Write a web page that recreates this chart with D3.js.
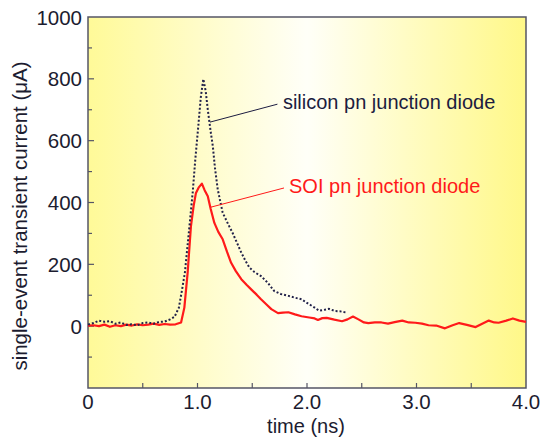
<!DOCTYPE html>
<html><head><meta charset="utf-8">
<script src="https://cdn.jsdelivr.net/npm/d3@7"></script>
<style>body{margin:0;background:#fff}svg{display:block}text{font-family:"Liberation Sans",Arial,Helvetica,sans-serif}</style>
</head><body>
<script>
// ---- data ----
const siliconT = [0.00,0.05,0.10,0.15,0.20,0.25,0.30,0.35,0.40,0.45,0.50,0.55,0.60,0.65,0.70,0.75,0.79,0.83,0.86,0.885,0.92,0.956,0.98,1.007,1.03,1.053,1.075,1.094,1.12,1.14,1.16,1.185,1.21,1.23,1.28,1.32,1.36,1.40,1.44,1.475,1.52,1.58,1.64,1.70,1.76,1.83,1.89,1.95,2.00,2.07,2.11,2.16,2.20,2.255,2.30,2.36];
const siliconI = [5,10,18,14,16,8,12,4,6,3,10,12,8,14,15,22,30,60,120,174,300,432,540,646,740,799,760,700,630,582,510,442,400,367,330,302,270,238,210,189,175,162,141,114,104,98,92,87,75,60,50,53,56,49,48,44];
const soiT = [0.00,0.05,0.10,0.15,0.20,0.25,0.30,0.35,0.40,0.45,0.50,0.55,0.60,0.65,0.70,0.75,0.80,0.85,0.88,0.91,0.94,0.965,0.986,1.01,1.04,1.065,1.094,1.12,1.154,1.19,1.23,1.27,1.307,1.35,1.40,1.45,1.49,1.54,1.58,1.63,1.674,1.735,1.78,1.83,1.89,1.95,2.02,2.07,2.10,2.14,2.18,2.25,2.32,2.37,2.42,2.47,2.52,2.56,2.62,2.68,2.74,2.80,2.87,2.93,2.99,3.05,3.11,3.18,3.26,3.33,3.39,3.46,3.54,3.60,3.66,3.71,3.75,3.82,3.88,3.94,4.00];
const soiI = [2,3,0,5,-2,3,0,5,2,6,3,5,8,4,7,5,6,12,60,173,323,390,431,448,461,440,420,380,334,305,281,240,205,178,152,133,119,102,87,70,55,42,44,45,38,32,28,25,20,26,27,21,16,22,31,22,12,10,12,12,8,13,18,12,11,8,3,2,-7,3,10,4,-3,8,18,12,11,18,25,18,14];
const xMajor = [0,1,2,3,4];
const xTickLabels = ["0","1.0","2.0","3.0","4.0"];
const xMinor = [0.5,1.5,2.5,3.5];
const yMajor = [0,200,400,600,800,1000];
const yTickLabels = ["0","200","400","600","800","1000"];
const yMinor = [-100,100,300,500,700,900];
const xTitle = "time (ns)";
const yTitle = "single-event transient current (\u03bcA)";
// annotations: [label, leader start t, I, leader end t, I, text t, I]
const siliconNote = ["silicon pn junction diode", 1.114, 660, 1.73, 718, 1.78, 701];
const soiNote = ["SOI pn junction diode", 1.123, 385, 1.79, 447, 1.836, 431];

// ---- drawing ----
const W = 540, H = 438;
const L = 88, R = 526, T = 17, B = 388;
const x = d3.scaleLinear().domain([0,4]).range([L,R]);
const y = d3.scaleLinear().domain([-200,1000]).range([B,T]);
const svg = d3.select("body").append("svg").attr("width",W).attr("height",H);

const defs = svg.append("defs");
const g = defs.append("linearGradient").attr("id","bg").attr("x1","0").attr("x2","1").attr("y1","0").attr("y2","0");
[[0,"#fffa98"],[0.25,"#fffcc8"],[0.5,"#fffff8"],[0.72,"#fffcc6"],[1,"#fff888"]].forEach(s=>g.append("stop").attr("offset",s[0]).attr("stop-color",s[1]));
svg.append("rect").attr("x",L).attr("y",T).attr("width",R-L).attr("height",B-T).attr("fill","url(#bg)");

const axisColor = "#555566";
const tk = svg.append("g").attr("stroke",axisColor).attr("stroke-width",1.2);
xMajor.concat(xMinor).forEach(v=>{ if(v>0&&v<4) tk.append("line").attr("x1",x(v)).attr("x2",x(v)).attr("y1",B).attr("y2",B-5); });
yMajor.forEach(v=>{ if(v<1000) tk.append("line").attr("x1",L).attr("x2",L+6).attr("y1",y(v)).attr("y2",y(v)); });
yMinor.forEach(v=>tk.append("line").attr("x1",L).attr("x2",L+4).attr("y1",y(v)).attr("y2",y(v)));

svg.append("rect").attr("x",L).attr("y",T).attr("width",R-L).attr("height",B-T).attr("fill","none").attr("stroke",axisColor).attr("stroke-width",1.5);

const textColor = "#1c1c30";
svg.append("g").selectAll("text").data(xMajor).join("text")
  .attr("x",d=>x(d)).attr("y",B+21).attr("text-anchor","middle").attr("font-size",20.5).attr("fill",textColor)
  .text((d,i)=>xTickLabels[i]);
svg.append("g").selectAll("text").data(yMajor).join("text")
  .attr("x",L-6).attr("y",d=>y(d)+7.5).attr("text-anchor","end").attr("font-size",20.5).attr("fill",textColor)
  .text((d,i)=>yTickLabels[i]);

svg.append("text").attr("x",306).attr("y",433).attr("text-anchor","middle").attr("font-size",20).attr("fill",textColor).text(xTitle);
svg.append("text").attr("transform",`translate(27,216) rotate(-90)`).attr("text-anchor","middle").attr("font-size",20.5).attr("fill",textColor).text(yTitle);

const line = d3.line().x(d=>x(d[0])).y(d=>y(d[1]));
svg.append("path").datum(soiT.map((t,i)=>[t,soiI[i]])).attr("d",line)
  .attr("fill","none").attr("stroke","#ff1a1a").attr("stroke-width",2.2).attr("stroke-linejoin","round");
svg.append("path").datum(siliconT.map((t,i)=>[t,siliconI[i]])).attr("d",line)
  .attr("fill","none").attr("stroke","#22224a").attr("stroke-width",2).attr("stroke-dasharray","2,2");

function note(n,color){
  svg.append("line").attr("x1",x(n[1])).attr("y1",y(n[2])).attr("x2",x(n[3])).attr("y2",y(n[4])).attr("stroke",color).attr("stroke-width",1);
  svg.append("text").attr("x",x(n[5])).attr("y",y(n[6])).attr("font-size",20).attr("fill",color).text(n[0]);
}
note(siliconNote,"#1c1c40");
note(soiNote,"#ff1a1a");
</script>
</body></html>
